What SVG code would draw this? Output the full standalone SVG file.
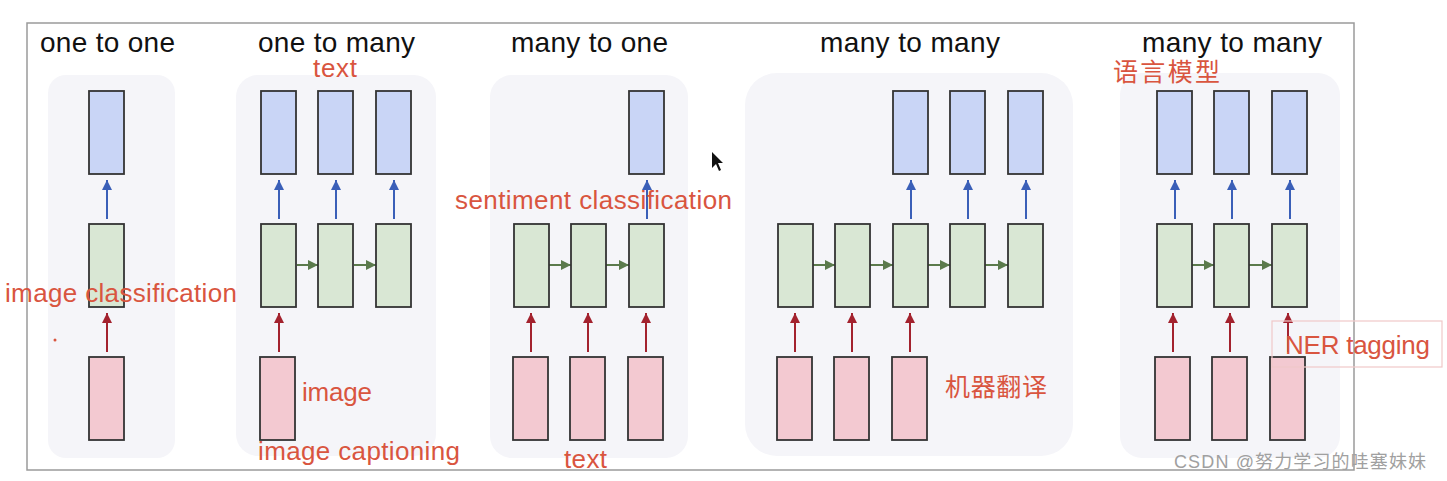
<svg xmlns="http://www.w3.org/2000/svg" width="1447" height="481" viewBox="0 0 1447 481">
<defs>
<style>
.panel{fill:#f5f5f9;stroke:none}
.out{fill:#c9d5f6;stroke:#333;stroke-width:1.8}
.hid{fill:#d9e7d4;stroke:#333;stroke-width:1.8}
.inp{fill:#f3c9d1;stroke:#333;stroke-width:1.8}
.ab{stroke:#3a5fb8;stroke-width:2;fill:none}
.ar{stroke:#a3222e;stroke-width:2;fill:none}
.ag{stroke:#5b7a4c;stroke-width:2;fill:none}
.title{font-family:"Liberation Sans",Arial,sans-serif;font-size:28px;fill:#111}
.note{font-family:"Liberation Sans",Arial,"Noto Sans CJK SC",sans-serif;font-size:26px;fill:#d9553f}
.cjk{font-family:"Noto Sans CJK SC",sans-serif;font-size:25px;fill:#d9553f}
.wm{font-family:"Liberation Sans","Noto Sans CJK SC",sans-serif;font-size:18px;fill:#a0a0a0}
</style>
<marker id="mb" viewBox="0 0 10 10" refX="10" refY="5" markerWidth="12" markerHeight="10" markerUnits="userSpaceOnUse" orient="auto"><path d="M0,0 L10,5 L0,10 Z" fill="#3a5fb8"/></marker>
<marker id="mr" viewBox="0 0 10 10" refX="10" refY="5" markerWidth="12" markerHeight="10" markerUnits="userSpaceOnUse" orient="auto"><path d="M0,0 L10,5 L0,10 Z" fill="#a3222e"/></marker>
<marker id="mg" viewBox="0 0 10 10" refX="10" refY="5" markerWidth="12" markerHeight="10" markerUnits="userSpaceOnUse" orient="auto"><path d="M0,0 L10,5 L0,10 Z" fill="#5b7a4c"/></marker>
</defs>
<rect width="1447" height="481" fill="#fff"/>
<rect x="27" y="23" width="1327" height="447" fill="none" stroke="#9a9a9a" stroke-width="1.5"/>
<g id="panels">
<rect class="panel" x="48" y="75" width="127" height="383" rx="18"/>
<rect class="panel" x="236" y="75" width="200" height="381" rx="22"/>
<rect class="panel" x="490" y="75" width="198" height="383" rx="22"/>
<rect class="panel" x="745" y="73" width="328" height="383" rx="32"/>
<rect class="panel" x="1120" y="73" width="220" height="385" rx="22"/>
</g>
<g id="titles">
<text class="title" x="40" y="52" textLength="135">one to one</text>
<text class="title" x="258" y="52" textLength="157">one to many</text>
<text class="title" x="511" y="52" textLength="157">many to one</text>
<text class="title" x="820" y="52" textLength="180">many to many</text>
<text class="title" x="1142" y="52" textLength="180">many to many</text>
</g>
<g id="connectors">
<line class="ab" x1="107" y1="219" x2="107" y2="180" marker-end="url(#mb)"/>
<line class="ar" x1="107" y1="352" x2="107" y2="313" marker-end="url(#mr)"/>
<line class="ab" x1="279" y1="219" x2="279" y2="180" marker-end="url(#mb)"/>
<line class="ab" x1="336" y1="219" x2="336" y2="180" marker-end="url(#mb)"/>
<line class="ab" x1="394" y1="219" x2="394" y2="180" marker-end="url(#mb)"/>
<line class="ar" x1="279" y1="352" x2="279" y2="313" marker-end="url(#mr)"/>
<line class="ag" x1="297" y1="265" x2="318" y2="265" marker-end="url(#mg)"/>
<line class="ag" x1="354" y1="265" x2="376" y2="265" marker-end="url(#mg)"/>
<line class="ab" x1="647" y1="219" x2="647" y2="180" marker-end="url(#mb)"/>
<line class="ar" x1="531" y1="352" x2="531" y2="313" marker-end="url(#mr)"/>
<line class="ar" x1="588" y1="352" x2="588" y2="313" marker-end="url(#mr)"/>
<line class="ar" x1="646" y1="352" x2="646" y2="313" marker-end="url(#mr)"/>
<line class="ag" x1="549" y1="265" x2="571" y2="265" marker-end="url(#mg)"/>
<line class="ag" x1="606" y1="265" x2="629" y2="265" marker-end="url(#mg)"/>
<line class="ab" x1="911" y1="219" x2="911" y2="180" marker-end="url(#mb)"/>
<line class="ab" x1="968" y1="219" x2="968" y2="180" marker-end="url(#mb)"/>
<line class="ab" x1="1026" y1="219" x2="1026" y2="180" marker-end="url(#mb)"/>
<line class="ar" x1="795" y1="352" x2="795" y2="313" marker-end="url(#mr)"/>
<line class="ar" x1="852" y1="352" x2="852" y2="313" marker-end="url(#mr)"/>
<line class="ar" x1="910" y1="352" x2="910" y2="313" marker-end="url(#mr)"/>
<line class="ag" x1="813" y1="265" x2="835" y2="265" marker-end="url(#mg)"/>
<line class="ag" x1="870" y1="265" x2="893" y2="265" marker-end="url(#mg)"/>
<line class="ag" x1="928" y1="265" x2="950" y2="265" marker-end="url(#mg)"/>
<line class="ag" x1="985" y1="265" x2="1008" y2="265" marker-end="url(#mg)"/>
<line class="ab" x1="1175" y1="219" x2="1175" y2="180" marker-end="url(#mb)"/>
<line class="ab" x1="1232" y1="219" x2="1232" y2="180" marker-end="url(#mb)"/>
<line class="ab" x1="1290" y1="219" x2="1290" y2="180" marker-end="url(#mb)"/>
<line class="ar" x1="1173" y1="352" x2="1173" y2="313" marker-end="url(#mr)"/>
<line class="ar" x1="1230" y1="352" x2="1230" y2="313" marker-end="url(#mr)"/>
<line class="ar" x1="1288" y1="352" x2="1288" y2="313" marker-end="url(#mr)"/>
<line class="ag" x1="1192" y1="265" x2="1214" y2="265" marker-end="url(#mg)"/>
<line class="ag" x1="1249" y1="265" x2="1272" y2="265" marker-end="url(#mg)"/>
</g>
<g id="p1">
<g id="p1-out"><rect class="out" x="89" y="91" width="35" height="83"/></g>
<g id="p1-hid"><rect class="hid" x="89" y="224" width="35" height="83"/></g>
<g id="p1-in"><rect class="inp" x="89" y="357" width="35" height="83"/></g>
</g>
<g id="p2">
<g id="p2-out1"><rect class="out" x="261" y="91" width="35" height="83"/></g>
<g id="p2-out2"><rect class="out" x="318" y="91" width="35" height="83"/></g>
<g id="p2-out3"><rect class="out" x="376" y="91" width="35" height="83"/></g>
<g id="p2-hid1"><rect class="hid" x="261" y="224" width="35" height="83"/></g>
<g id="p2-hid2"><rect class="hid" x="318" y="224" width="35" height="83"/></g>
<g id="p2-hid3"><rect class="hid" x="376" y="224" width="35" height="83"/></g>
<g id="p2-in1"><rect class="inp" x="260" y="357" width="35" height="83"/></g>
</g>
<g id="p3">
<g id="p3-out3"><rect class="out" x="629" y="91" width="35" height="83"/></g>
<g id="p3-hid1"><rect class="hid" x="514" y="224" width="35" height="83"/></g>
<g id="p3-hid2"><rect class="hid" x="571" y="224" width="35" height="83"/></g>
<g id="p3-hid3"><rect class="hid" x="629" y="224" width="35" height="83"/></g>
<g id="p3-in1"><rect class="inp" x="513" y="357" width="35" height="83"/></g>
<g id="p3-in2"><rect class="inp" x="570" y="357" width="35" height="83"/></g>
<g id="p3-in3"><rect class="inp" x="628" y="357" width="35" height="83"/></g>
</g>
<g id="p4">
<g id="p4-out3"><rect class="out" x="893" y="91" width="35" height="83"/></g>
<g id="p4-out4"><rect class="out" x="950" y="91" width="35" height="83"/></g>
<g id="p4-out5"><rect class="out" x="1008" y="91" width="35" height="83"/></g>
<g id="p4-hid1"><rect class="hid" x="778" y="224" width="35" height="83"/></g>
<g id="p4-hid2"><rect class="hid" x="835" y="224" width="35" height="83"/></g>
<g id="p4-hid3"><rect class="hid" x="893" y="224" width="35" height="83"/></g>
<g id="p4-hid4"><rect class="hid" x="950" y="224" width="35" height="83"/></g>
<g id="p4-hid5"><rect class="hid" x="1008" y="224" width="35" height="83"/></g>
<g id="p4-in1"><rect class="inp" x="777" y="357" width="35" height="83"/></g>
<g id="p4-in2"><rect class="inp" x="834" y="357" width="35" height="83"/></g>
<g id="p4-in3"><rect class="inp" x="892" y="357" width="35" height="83"/></g>
</g>
<g id="p5">
<g id="p5-out1"><rect class="out" x="1157" y="91" width="35" height="83"/></g>
<g id="p5-out2"><rect class="out" x="1214" y="91" width="35" height="83"/></g>
<g id="p5-out3"><rect class="out" x="1272" y="91" width="35" height="83"/></g>
<g id="p5-hid1"><rect class="hid" x="1157" y="224" width="35" height="83"/></g>
<g id="p5-hid2"><rect class="hid" x="1214" y="224" width="35" height="83"/></g>
<g id="p5-hid3"><rect class="hid" x="1272" y="224" width="35" height="83"/></g>
<g id="p5-in1"><rect class="inp" x="1155" y="357" width="35" height="83"/></g>
<g id="p5-in2"><rect class="inp" x="1212" y="357" width="35" height="83"/></g>
<g id="p5-in3"><rect class="inp" x="1270" y="357" width="35" height="83"/></g>
</g>
<g id="annotations">
<text class="note" x="313" y="77" textLength="44" font-size="25">text</text>
<text class="note" x="5" y="302" textLength="232">image classification</text>
<circle cx="55" cy="340" r="1.5" fill="#d9553f"/>
<text class="note" x="302" y="401" textLength="70">image</text>
<text class="note" x="258" y="460" textLength="202">image captioning</text>
<text class="note" x="455" y="209" textLength="277">sentiment classification</text>
<text class="note" x="564" y="468" textLength="43">text</text>
<text class="cjk" x="945" y="396" textLength="102">机器翻译</text>
<text class="cjk" x="1113" y="81" textLength="107" font-size="26">语言模型</text>
<rect x="1272" y="321" width="170" height="46" fill="none" stroke="#f0c8c8" stroke-width="1.2"/>
<text class="note" x="1285" y="354" textLength="145">NER tagging</text>
</g>
<path id="cursor" d="M712,152 L712,168 L716,164 L719,171 L721,170 L718,163 L723,163 Z" fill="#111"/>
<text class="wm" x="1174" y="468" textLength="252">CSDN @努力学习的哇塞妹妹</text>
</svg>
